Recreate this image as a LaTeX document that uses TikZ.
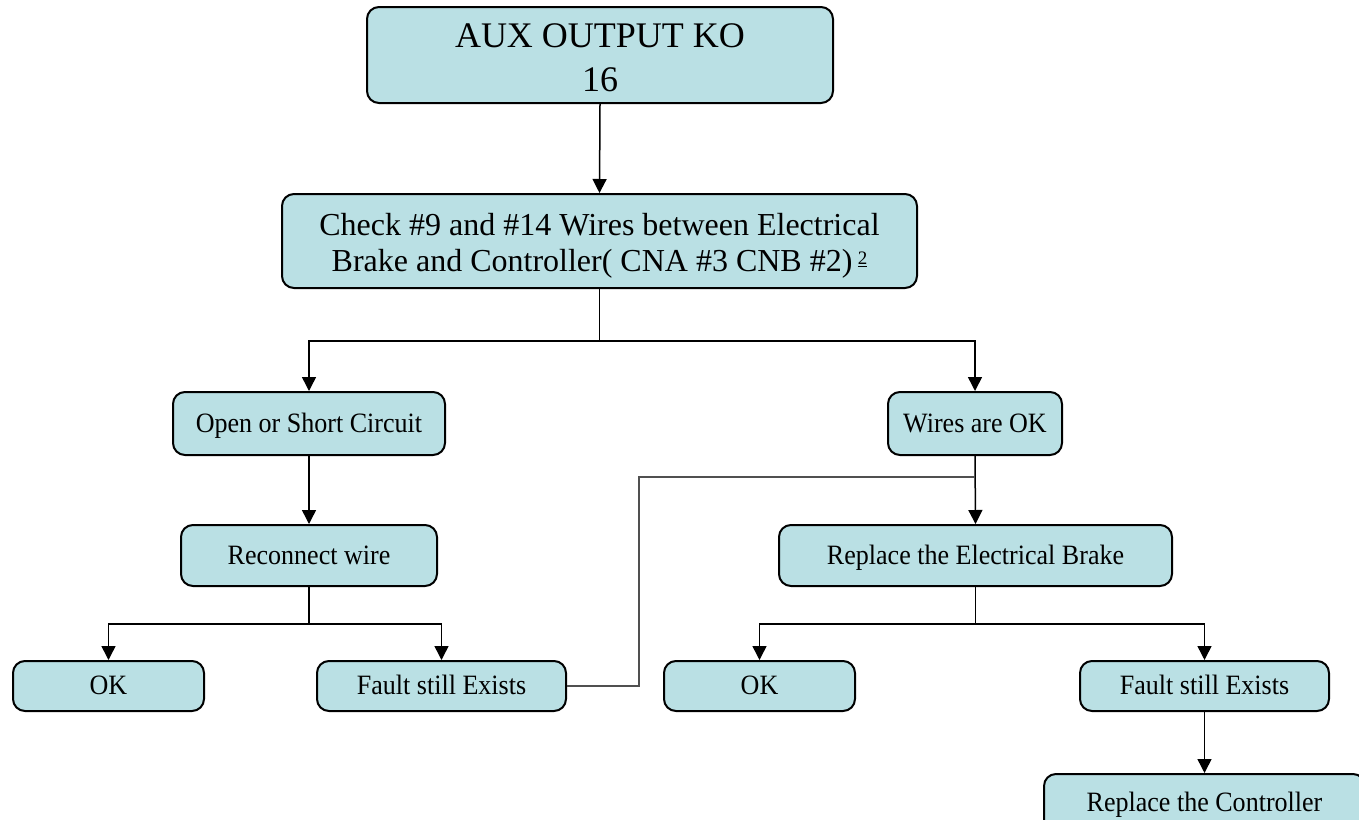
\documentclass[tikz,border=0pt]{standalone}
\usepackage{fontspec}
\setmainfont{Liberation Serif}
\newfontfamily\narrowserif[FakeStretch=0.93]{Liberation Serif}
\usetikzlibrary{arrows.meta}
\definecolor{boxfill}{RGB}{186,224,228}
\definecolor{loopgrey}{RGB}{80,80,80}
\tikzset{
  fbox/.style={draw=black, line width=2pt, fill=boxfill, rounded corners=12pt, inner sep=0pt, align=center},
  conn/.style={line width=1.5pt, draw=black},
  arr/.style={conn, -{Triangle[length=14pt,width=14pt]}},
  small/.style={font=\narrowserif\fontsize{28}{30}\selectfont, text height=21pt, text depth=4pt}
}
\begin{document}
\begin{tikzpicture}[x=1pt,y=-1pt]
\useasboundingbox (0,0) rectangle (1359,819);
\clip (0,0) rectangle (1359,819);
\node[fbox, minimum width=466pt, minimum height=96pt, font=\fontsize{36}{44.5}\selectfont] (top) at (600,55) {\rule{0pt}{29pt}AUX OUTPUT KO\\16};
\node[fbox, minimum width=635pt, minimum height=94pt, font=\fontsize{32}{36.5}\selectfont] (check) at (599.5,241) {\rule{0pt}{32pt}Check \#9 and \#14 Wires between Electrical\\Brake and Controller( CNA \#3 CNB \#2)\,\raisebox{0.5ex}{\fontsize{19}{19}\selectfont\underline{2}}};
\node[fbox, small, minimum width=272pt, minimum height=63pt] (open) at (309,423.5) {Open or Short Circuit};
\node[fbox, small, minimum width=174pt, minimum height=63pt] (wires) at (975,423.5) {Wires are OK};
\node[fbox, small, minimum width=256pt, minimum height=61pt] (recon) at (309,555.5) {Reconnect wire};
\node[fbox, small, minimum width=393pt, minimum height=61pt] (brake) at (975.5,555.5) {Replace the Electrical Brake};
\node[fbox, small, minimum width=191pt, minimum height=50pt] (ok1) at (108.5,686) {OK};
\node[fbox, small, minimum width=249pt, minimum height=50pt] (fault1) at (441.5,686) {Fault still Exists};
\node[fbox, small, minimum width=191pt, minimum height=50pt] (ok2) at (759.5,686) {OK};
\node[fbox, small, minimum width=249pt, minimum height=50pt] (fault2) at (1204.5,686) {Fault still Exists};
\node[fbox, small, minimum width=321pt, minimum height=58pt] (ctrl) at (1204.5,803) {Replace the Controller};
\coordinate (join) at (975,477);
\draw[arr] (top.south) -- (check.north);
\draw[conn] (check.south) -- ++(0,52) coordinate (c1);
\draw[arr] (c1) -| (open.north);
\draw[arr] (c1) -| (wires.north);
\draw[arr] (open.south) -- (recon.north);
\draw[conn] (recon.south) -- ++(0,37) coordinate (r1);
\draw[arr] (r1) -| (ok1.north);
\draw[arr] (r1) -| (fault1.north);
\draw[arr] (wires.south) -- (brake.north);
\draw[conn, draw=loopgrey] (fault1.east) -- ++(72,0) |- (join);
\draw[conn] (brake.south) -- ++(0,37) coordinate (b1);
\draw[arr] (b1) -| (ok2.north);
\draw[arr] (b1) -| (fault2.north);
\draw[arr] (fault2.south) -- (ctrl.north);
\end{tikzpicture}
\end{document}
